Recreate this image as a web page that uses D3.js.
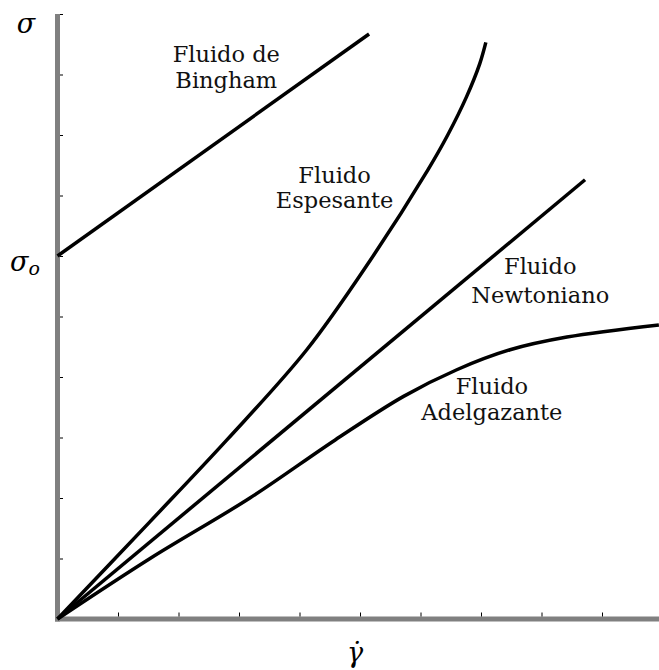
<!DOCTYPE html>
<html>
<head>
<meta charset="utf-8">
<script src="https://cdn.jsdelivr.net/npm/d3@7"></script>
<style>
  html, body { margin: 0; padding: 0; background: #fff; }
  svg { display: block; }
</style>
</head>
<body>
<svg id="chart" width="659" height="670"></svg>
<script>
// ---- data (axis units: 0..10 on both axes) ----
const yTicks = [1, 2, 3, 4, 5, 6, 7, 8, 9, 10];
const xTicks = [1, 2, 3, 4, 5, 6, 7, 8, 9];
const sigma0 = 6.0;
const bingham = [[0, 6.0], [5.15, 9.67]];
const espesante = [[0, 0], [1.53, 1.61], [2.80, 2.96], [4.12, 4.45], [5.17, 5.93],
                   [6.12, 7.42], [6.45, 8.0], [6.76, 8.63], [6.98, 9.18], [7.08, 9.53]];
const newtoniano = [[0, 0], [8.72, 7.26]];
const adelgazante = [[0, 0], [1.53, 1.0], [3.18, 2.0], [4.59, 2.96], [5.72, 3.68],
                     [6.6, 4.12], [7.48, 4.45], [8.42, 4.66], [9.94, 4.86]];
const labels = [
  { lines: ["Fluido de", "Bingham"], at: [2.79, 9.21], gap: 26 },
  { lines: ["Fluido", "Espesante"], at: [4.58, 7.20], gap: 25 },
  { lines: ["Fluido", "Newtoniano"], at: [7.98, 5.71], gap: 29 },
  { lines: ["Fluido", "Adelgazante"], at: [7.18, 3.72], gap: 26 }
];

// ---- layout ----
const svg = d3.select("#chart");
const x = d3.scaleLinear().domain([0, 10]).range([57.5, 662.5]);
const y = d3.scaleLinear().domain([0, 10]).range([619, 14]);
const serif = "'DejaVu Serif', serif";

// gray axes
svg.append("line")
  .attr("x1", x(0)).attr("x2", x(0))
  .attr("y1", y(10)).attr("y2", y(0) + 2.5)
  .attr("stroke", "#808080").attr("stroke-width", 5);
svg.append("line")
  .attr("x1", x(0) - 2.5).attr("x2", 659)
  .attr("y1", y(0)).attr("y2", y(0))
  .attr("stroke", "#808080").attr("stroke-width", 5);

// ticks
const yAxis = d3.axisRight(y).tickValues(yTicks).tickSize(3).tickFormat("");
svg.append("g").attr("transform", `translate(${x(0) + 2.5},0)`).call(yAxis)
  .call(g => g.select(".domain").remove())
  .selectAll("line").attr("stroke", "#000").attr("stroke-width", 1);
const xAxis = d3.axisTop(x).tickValues(xTicks).tickSize(4).tickFormat("");
svg.append("g").attr("transform", `translate(0,${y(0) - 2.5})`).call(xAxis)
  .call(g => g.select(".domain").remove())
  .selectAll("line").attr("stroke", "#000").attr("stroke-width", 1);

// curves
const line = d3.line().x(d => x(d[0])).y(d => y(d[1])).curve(d3.curveCatmullRom.alpha(0.5));
[bingham, espesante, newtoniano, adelgazante].forEach(s => {
  svg.append("path").attr("d", line(s))
    .attr("fill", "none").attr("stroke", "#000")
    .attr("stroke-width", 3.5).attr("stroke-linecap", "butt");
});

// labels
labels.forEach(l => {
  const t = svg.append("text")
    .attr("text-anchor", "middle")
    .attr("font-family", serif).attr("font-size", 22.5).attr("fill", "#111");
  l.lines.forEach((s, i) => {
    t.append("tspan").attr("x", x(l.at[0])).attr("y", y(l.at[1]) + i * l.gap).text(s);
  });
});

// greek symbols
svg.append("text").attr("x", 26).attr("y", 33).attr("text-anchor", "middle")
  .attr("font-family", serif).attr("font-style", "italic").attr("font-size", 27)
  .text("σ");
const s0 = svg.append("text").attr("x", 10).attr("y", y(sigma0) + 15)
  .attr("font-family", serif).attr("font-style", "italic").attr("font-size", 27);
s0.append("tspan").text("σ");
s0.append("tspan").attr("dy", 4).attr("font-size", 19).text("o");
svg.append("text").attr("x", 355).attr("y", 662).attr("text-anchor", "middle")
  .attr("font-family", serif).attr("font-style", "italic").attr("font-size", 27)
  .text("γ̇");
</script>
</body>
</html>
